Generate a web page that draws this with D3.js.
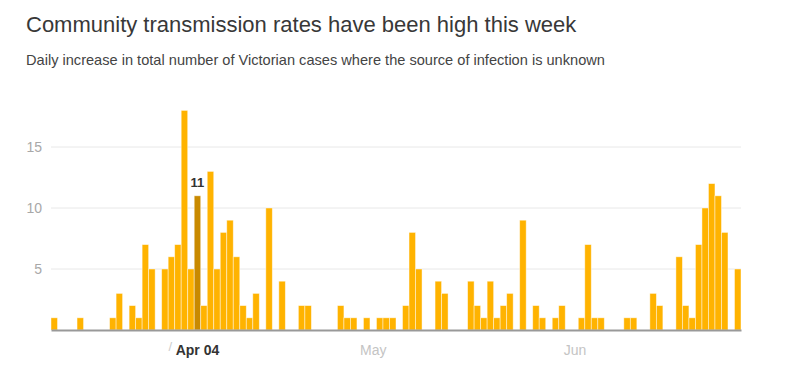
<!DOCTYPE html>
<html>
<head>
<meta charset="utf-8">
<script src="https://d3js.org/d3.v7.min.js"></script>
<style>
  body { margin: 0; background: #fff; font-family: "Liberation Sans", Arial, sans-serif; }
  svg { display: block; }
</style>
</head>
<body>
<svg id="chart" width="800" height="368"></svg>
<script>
// daily unknown-source cases, starting 13 March
const startDate = new Date(2020, 2, 13);
const cases = [
  1, 0, 0, 0, 1, 0, 0, 0, 0, 1,
  3, 0, 2, 1, 7, 5, 0, 5, 6, 7,
  18, 5, 11, 2, 13, 5, 8, 9, 6, 2,
  1, 3, 0, 10, 0, 4, 0, 0, 2, 2,
  0, 0, 0, 0, 2, 1, 1, 0, 1, 0,
  1, 1, 1, 0, 2, 8, 5, 0, 0, 4,
  3, 0, 0, 0, 4, 2, 1, 4, 1, 2,
  3, 0, 9, 0, 2, 1, 0, 1, 2, 0,
  0, 1, 7, 1, 1, 0, 0, 0, 1, 1,
  0, 0, 3, 2, 0, 0, 6, 2, 1, 7,
  10, 12, 11, 8, 0, 5
];
const highlightDate = new Date(2020, 3, 4);
const yTicks = [5, 10, 15];
const xTickDates = [new Date(2020, 3, 4), new Date(2020, 4, 1), new Date(2020, 5, 1)];
const xTickLabels = ['Apr 04', 'May', 'Jun'];

const title = 'Community transmission rates have been high this week';
const subtitle = 'Daily increase in total number of Victorian cases where the source of infection is unknown';

const dates = cases.map((_, i) => d3.timeDay.offset(startDate, i));
const data = dates.map((d, i) => ({date: d, value: cases[i]}));

const svg = d3.select('#chart');

svg.append('text').attr('x', 26).attr('y', 32)
  .style('font-size', '22px').style('fill', '#383838').text(title);
svg.append('text').attr('x', 26).attr('y', 65)
  .style('font-size', '14.6px').style('fill', '#444').text(subtitle);

const x = d3.scaleBand().domain(dates.map(d => +d)).range([51, 741]).padding(0);
const y = d3.scaleLinear().domain([0, 18]).range([330, 110.4]);

// gridlines + y labels
const grid = svg.append('g');
grid.selectAll('line').data(yTicks).join('line')
  .attr('x1', 51).attr('x2', 741)
  .attr('y1', d => y(d)).attr('y2', d => y(d))
  .attr('stroke', '#e8e8e8').attr('stroke-width', 1);
grid.selectAll('text').data(yTicks).join('text')
  .attr('x', 42).attr('y', d => y(d)).attr('dy', '0.35em')
  .attr('text-anchor', 'end')
  .style('font-size', '14px').style('fill', '#a8a8a8')
  .text(d => d);

// bars
const isHi = d => +d.date === +highlightDate;
svg.append('g').selectAll('rect').data(data.filter(d => d.value > 0)).join('rect')
  .attr('x', d => x(+d.date))
  .attr('width', x.bandwidth())
  .attr('y', d => y(d.value))
  .attr('height', d => y(0) - y(d.value))
  .attr('fill', d => isHi(d) ? '#c98a00' : '#ffb300')
  .attr('stroke', 'rgba(255,255,255,0.55)')
  .attr('stroke-width', 0.8);

// highlighted value label
const hi = data.find(isHi);
svg.append('text')
  .attr('x', x(+hi.date) + x.bandwidth() / 2).attr('y', y(hi.value) - 9)
  .attr('text-anchor', 'middle')
  .style('font-size', '13px').style('font-weight', 700).style('fill', '#333')
  .text(hi.value);

// x axis
const xAxis = d3.axisBottom(x)
  .tickValues(xTickDates.map(d => +d))
  .tickFormat((d, i) => xTickLabels[i])
  .tickSize(0).tickSizeOuter(0).tickPadding(8);
const ax = svg.append('g').attr('transform', `translate(0,${y(0)})`).call(xAxis);
ax.select('.domain').attr('stroke', '#999').attr('stroke-width', 2);
ax.selectAll('.tick text')
  .style('font-family', '"Liberation Sans", Arial, sans-serif')
  .style('font-size', '14px')
  .style('fill', (d, i) => i === 0 ? '#333' : '#c4c4c4')
  .style('font-weight', (d, i) => i === 0 ? 700 : 400)
  .attr('dy', '1.2em');
// faint slash before the highlighted date label
svg.append('text')
  .attr('x', x(+highlightDate) + x.bandwidth() / 2 - 29).attr('y', 351)
  .style('font-size', '13px').style('fill', '#ccc').text('/');
</script>
</body>
</html>
